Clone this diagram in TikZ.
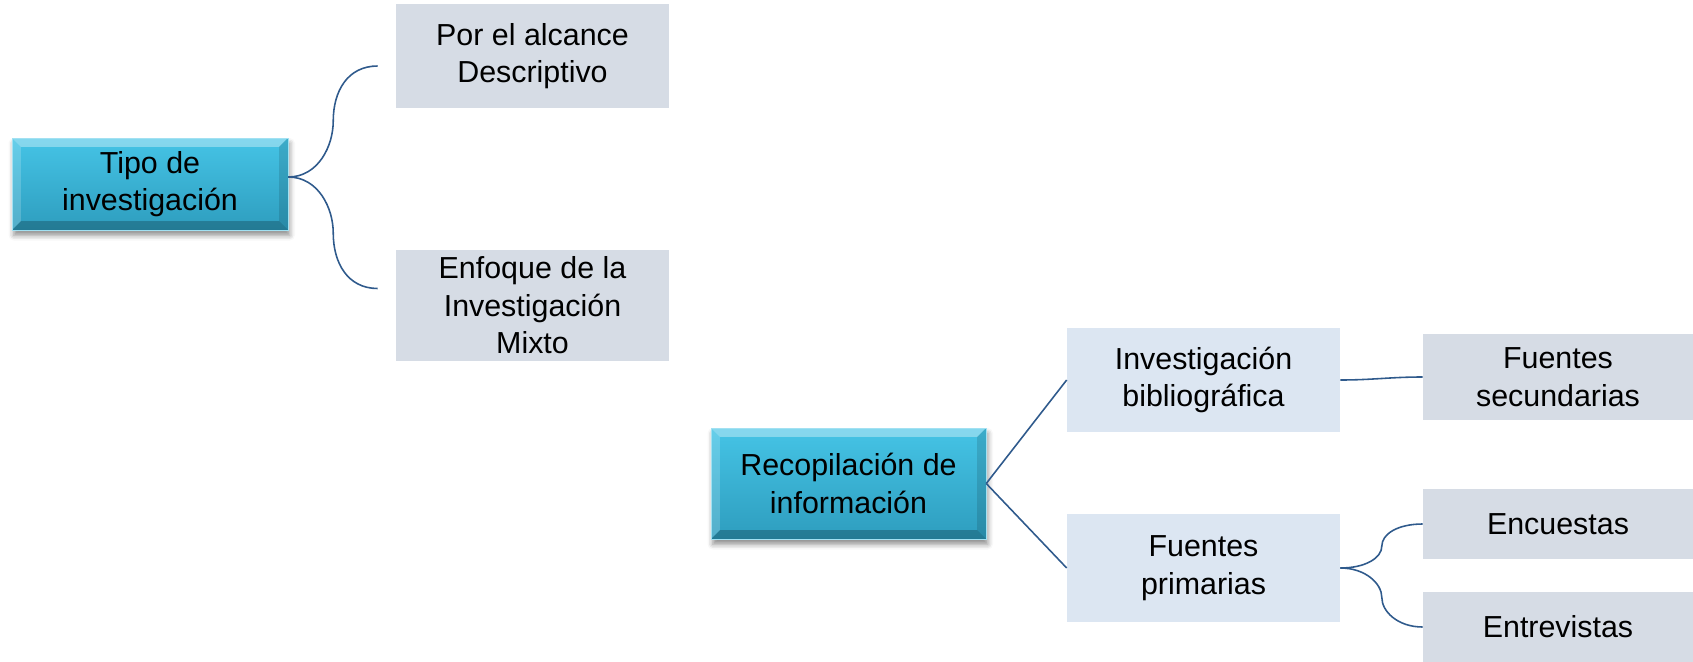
\documentclass[tikz,border=0pt]{standalone}
\usepackage{fontspec}
\setmainfont{Liberation Sans}
\usetikzlibrary{calc,shadows.blur}

\definecolor{boxgray}{HTML}{D6DCE5}
\definecolor{boxblue}{HTML}{DCE6F2}
\definecolor{tealtop}{HTML}{45C4E6}
\definecolor{tealbot}{HTML}{2E9DBE}
\definecolor{linkblue}{HTML}{2F5A8C}

\tikzstyle{box}=[inner sep=0pt, align=center, font=\fontsize{17.3}{21.4}\selectfont]
\tikzstyle{graybox}=[box, fill=boxgray]
\tikzstyle{bluebox}=[box, fill=boxblue, minimum width=5.46cm]
\tikzstyle{tealbox}=[box, draw=tealtop!50!white, line width=0.3pt, top color=tealtop, bottom color=tealbot,
	blur shadow={shadow xshift=1pt, shadow yshift=-3pt, shadow blur radius=3pt, shadow opacity=45},
	path picture={
		\fill[white, opacity=.35] (path picture bounding box.north west) -- (path picture bounding box.north east)
			-- ([shift={(-5pt,-5pt)}]path picture bounding box.north east) -- ([shift={(5pt,-5pt)}]path picture bounding box.north west) -- cycle;
		\fill[white, opacity=.18] (path picture bounding box.north west) -- (path picture bounding box.south west)
			-- ([shift={(5pt,5pt)}]path picture bounding box.south west) -- ([shift={(5pt,-5pt)}]path picture bounding box.north west) -- cycle;
		\fill[black, opacity=.22] (path picture bounding box.south west) -- (path picture bounding box.south east)
			-- ([shift={(-5pt,5pt)}]path picture bounding box.south east) -- ([shift={(5pt,5pt)}]path picture bounding box.south west) -- cycle;
		\fill[black, opacity=.12] (path picture bounding box.north east) -- (path picture bounding box.south east)
			-- ([shift={(-5pt,5pt)}]path picture bounding box.south east) -- ([shift={(-5pt,-5pt)}]path picture bounding box.north east) -- cycle;
	}]
\tikzstyle{connector}=[draw=linkblue, line width=0.9pt]

\begin{document}
\begin{tikzpicture}[x=0.02cm, y=-0.02cm]
	\useasboundingbox (0,0) rectangle (1693,662);
	\node[tealbox, minimum width=5.52cm, minimum height=1.84cm] (Tipo) at (150,184) {Tipo de\\investigación};
	\node[tealbox, minimum width=5.5cm, minimum height=2.22cm] (Recopilacion) at (848.5,483.5) {Recopilación de\\información};
	\foreach \pos/\name/\h/\txt in {{(532.5,56)/Alcance/2.08/Por el alcance\\Descriptivo},
				{(532.5,305.5)/Enfoque/2.22/Enfoque de la\\Investigación\\Mixto}}
		\node[graybox, minimum width=5.46cm, minimum height=\h cm] (\name) at \pos {\txt};
	\foreach \pos/\name/\h/\txt in {{(1203.5,380)/Bibliografica/2.08/Investigación\\bibliográfica},
				{(1203.5,568)/Primarias/2.16/Fuentes\\primarias}}
		\node[bluebox, minimum height=\h cm] (\name) at \pos {\txt};
	\foreach \pos/\name/\h/\txt in {{(1558,377)/Secundarias/1.72/Fuentes\\secundarias},
				{(1558,524)/Encuestas/1.4/Encuestas}, {(1558,627)/Entrevistas/1.4/Entrevistas}}
		\node[graybox, minimum width=5.4cm, minimum height=\h cm] (\name) at \pos {\txt};

	% brackets
	\path[connector] ($(Tipo.east)+(0,-7)$) .. controls +(30,0) and +(0,25) .. ++(45,-56)
		.. controls +(0,-30) and +(-30,0) .. ($(Alcance.west)+(-18,10)$);
	\path[connector] ($(Tipo.east)+(0,-7)$) .. controls +(30,0) and +(0,-25) .. ++(45,56)
		.. controls +(0,30) and +(-30,0) .. ($(Enfoque.west)+(-18,-17)$);
	\path[connector] (Primarias.east) .. controls +(25,0) and +(0,12) .. ++(41.5,-22)
		.. controls +(0,-12) and +(-25,0) .. (Encuestas.west);
	\path[connector] (Primarias.east) .. controls +(25,0) and +(0,-14) .. ++(41.5,29.5)
		.. controls +(0,14) and +(-25,0) .. (Entrevistas.west);
	% lines
	\foreach \source/\dest in {Recopilacion/Bibliografica, Recopilacion/Primarias}
		\path[connector] (\source.east) -- (\dest.west);
	\path[connector] (Bibliografica.east) to[out=0, in=180] (Secundarias.west);
\end{tikzpicture}
\end{document}
